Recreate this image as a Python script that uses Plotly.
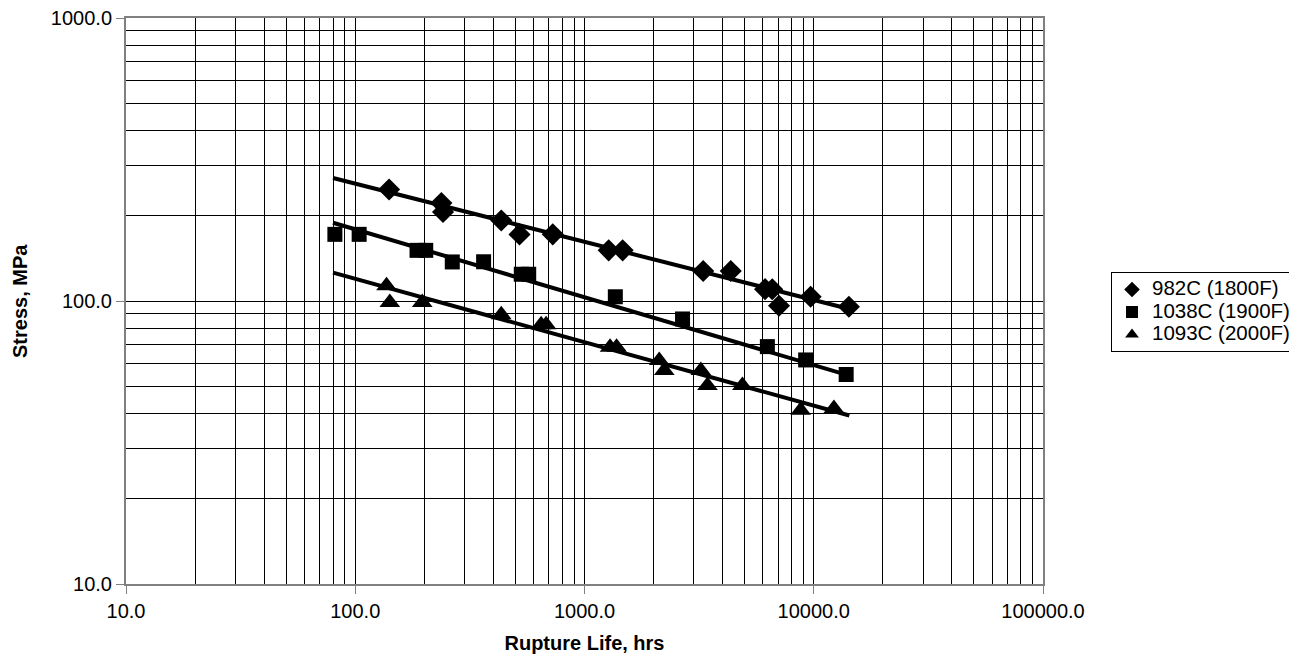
import plotly.graph_objects as go

# 982C (1800F)
x_982 = [140.5, 237.5, 241.5, 433.5, 520.6, 727, 1275, 1467, 3294, 4345, 6133, 6590, 7056, 9694, 14231]
y_982 = [247.7, 222, 206.5, 192.6, 171.9, 172, 151, 151, 127.7, 127.7, 110.1, 110, 96.2, 103.5, 95.4]
# 1038C (1900F)
x_1038 = [81.5, 104, 186, 203, 265, 363, 530, 571, 1363, 2677, 6276, 9219, 13850]
y_1038 = [172, 172, 151, 151, 137.4, 137.6, 124.3, 124.3, 103.5, 86.4, 69, 61.9, 55]
# 1093C (2000F)
x_1093 = [136.9, 141.5, 196, 433.5, 647, 680, 1293, 1380, 2118, 2229, 3218, 3439, 4884, 8770, 12246]
y_1093 = [113.1, 98.8, 98.8, 89.4, 82.5, 82.5, 68.6, 68.6, 61.6, 56.8, 56.8, 50.3, 50.3, 41.1, 41.7]

# power-law trend line end points
trend_x = [80, 14300]
trend_982 = [272, 93.7]
trend_1038 = [189, 54.5]
trend_1093 = [126, 39.4]

names = ["982C (1800F)", "1038C (1900F)", "1093C (2000F)"]
symbols = ["diamond", "square", "triangle-up"]
sizes = [17, 15, 18]

fig = go.Figure()
for tx, ty in [(trend_x, trend_982), (trend_x, trend_1038), (trend_x, trend_1093)]:
    fig.add_trace(go.Scatter(x=tx, y=ty, mode="lines", line=dict(color="black", width=4),
                             showlegend=False, hoverinfo="skip"))
for xs, ys, nm, sy, sz in zip([x_982, x_1038, x_1093], [y_982, y_1038, y_1093], names, symbols, sizes):
    fig.add_trace(go.Scatter(x=xs, y=ys, mode="markers",
                             name='<span style="font-size:20.5px">' + nm + '</span>',
                             marker=dict(symbol=sy, size=sz, color="black")))

xminor = [m * 10 ** d for d in range(1, 5) for m in range(2, 10)]
yminor = [m * 10 ** d for d in range(1, 3) for m in range(2, 10)]

font = "Liberation Sans, Arial, sans-serif"
L, T, B = 118, 10, 93
fig.update_layout(
    width=1297, height=669,
    margin=dict(l=L, r=261, t=T, b=B),
    paper_bgcolor="white", plot_bgcolor="white",
    font=dict(family=font, size=20, color="black"),
    legend=dict(x=1.073, y=0.48, xanchor="left", yanchor="middle",
                bordercolor="black", borderwidth=1, font=dict(size=15),
                itemsizing="constant", tracegroupgap=0, itemwidth=30),
    xaxis=dict(type="log", range=[1, 5], tickvals=[10, 100, 1000, 10000, 100000],
               ticktext=["10.0", "100.0", "1000.0", "10000.0", "100000.0"],
               ticks="outside", ticklen=8, tickcolor="#808080", automargin=False,
               ticklabeloverflow="allow",
               showgrid=True, gridcolor="black", gridwidth=1,
               minor=dict(tickvals=xminor, showgrid=True, gridcolor="black", gridwidth=1, ticks=""),
               showline=True, linecolor="#808080", linewidth=2, mirror=True,
               zeroline=False,
               title=dict(text="<b>Rupture Life, hrs</b>", font=dict(size=20), standoff=15)),
    yaxis=dict(type="log", range=[1, 3], tickvals=[10, 100, 1000],
               ticktext=["10.0", "100.0", "1000.0"],
               ticks="outside", ticklen=8, tickcolor="#808080", automargin=False,
               ticklabeloverflow="allow",
               showgrid=True, gridcolor="black", gridwidth=1,
               minor=dict(tickvals=yminor, showgrid=True, gridcolor="black", gridwidth=1, ticks=""),
               showline=True, linecolor="#808080", linewidth=2, mirror=True,
               zeroline=False),
    annotations=[dict(text="<b>Stress, MPa</b>", textangle=-90, font=dict(size=20),
                      xref="paper", yref="paper", x=0, y=0.5, xanchor="center", yanchor="middle",
                      xshift=-(L - 12), showarrow=False)],
)

fig.write_html("out.html")
